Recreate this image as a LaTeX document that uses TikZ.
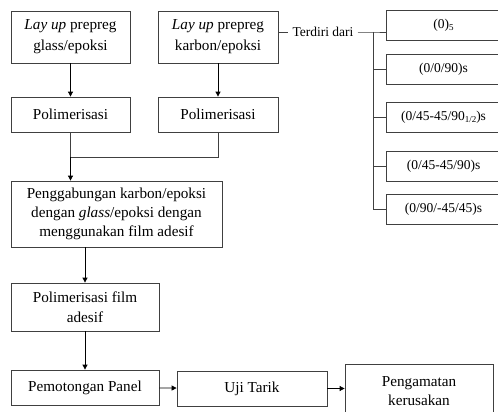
\documentclass[tikz,border=0pt]{standalone}
\usepackage{fontspec}
\setmainfont{Liberation Serif}
\usetikzlibrary{arrows.meta}
\begin{document}
\begin{tikzpicture}[x=1pt,y=-1pt,
  box/.style={draw=black!75, line width=0.8pt, inner sep=0pt, align=center,
    font=\fontsize{15.2}{20}\selectfont},
  rbox/.style={inner sep=0pt, align=center,
    minimum width=113pt, minimum height=29pt, font=\fontsize{13.5}{16}\selectfont},
  arr/.style={draw=black, line width=0.8pt, -{Triangle[length=5pt,width=5pt]}},
  ln/.style={draw=black!75, line width=0.8pt}]
\useasboundingbox (0,0) rectangle (498,412);
\clip (0,0) rectangle (498,412);
% left column
\node[box, minimum width=119pt, minimum height=52pt, font=\fontsize{15.2}{21}\selectfont] (b1) at (70.5,37) {\textit{Lay up} prepreg\\glass/epoksi};
\node[box, minimum width=120pt, minimum height=52pt, font=\fontsize{15.2}{21}\selectfont] (b2) at (218,37) {\textit{Lay up} prepreg\\karbon/epoksi};
\node[box, minimum width=119pt, minimum height=35pt] (p1) at (70.5,114.5) {Polimerisasi};
\node[box, minimum width=120pt, minimum height=35pt] (p2) at (218,114.5) {Polimerisasi};
\node[box, minimum width=211pt, minimum height=66pt, font=\fontsize{15.2}{19}\selectfont] (pg) at (116.5,214) {Penggabungan karbon/epoksi\\dengan \textit{glass}/epoksi dengan\\menggunakan film adesif};
\node[box, minimum width=148pt, minimum height=48pt] (pf) at (85,307) {Polimerisasi film\\adesif};
\node[box, minimum width=148pt, minimum height=35pt] (pm) at (85,387.5) {Pemotongan Panel};
\node[box, minimum width=150pt, minimum height=35pt] (ut) at (252,388.5) {Uji Tarik};
\node[box, minimum width=148pt, minimum height=55pt, font=\fontsize{15.2}{19}\selectfont] (pk) at (419,391.5) {Pengamatan\\kerusakan};
% arrows
\draw[arr] (b1) -- (p1);
\draw[arr] (b2) -- (p2);
\coordinate (j) at (70.5,157);
\draw[ln] (p1.south) -- (j) -- (j -| p2.south) -- (p2.south);
\draw[arr] (j) -- (pg.north -| j);
\draw[arr] (pg.south -| pf.north) -- (pf.north);
\draw[arr] (pf) -- (pm);
\draw[arr] (pm) -- (ut);
\draw[arr] (ut.east) -- (ut.east -| pk.west);
% right tree
\node[inner xsep=4pt, inner ysep=0pt, font=\fontsize{13.5}{16}\selectfont] (t) at (323,32) {Terdiri dari};
\node[rbox] (r1) at (443.5,25.5) {(0)\raisebox{-1.5pt}{\fontsize{9}{10}\selectfont 5}};
\node[rbox] (r2) at (443.5,69.5) {(0/0/90)s};
\node[rbox] (r3) at (443.5,117.5) {(0/45-45/90\raisebox{-1.5pt}{\fontsize{9}{10}\selectfont 1/2})s};
\node[rbox] (r4) at (443.5,166.5) {(0/45-45/90)s};
\node[rbox] (r5) at (443.5,209.5) {(0/90/-45/45)s};
\foreach \r in {r1,r2,r3,r4,r5}
  \draw[ln] (\r.north west) rectangle ([xshift=15pt]\r.south east);
\coordinate (tr) at (373,32);
\draw[ln] (b2.east |- t) -- (t.west);
\draw[ln] (t.east) -- (tr) -- (tr -| r1.west);
\draw[ln] (tr) -- (tr |- r5);
\draw[ln] (tr |- r2) -- (r2.west);
\draw[ln] (tr |- r3) -- (r3.west);
\draw[ln] (tr |- r4) -- (r4.west);
\draw[ln] (tr |- r5) -- (r5.west);
\end{tikzpicture}
\end{document}
